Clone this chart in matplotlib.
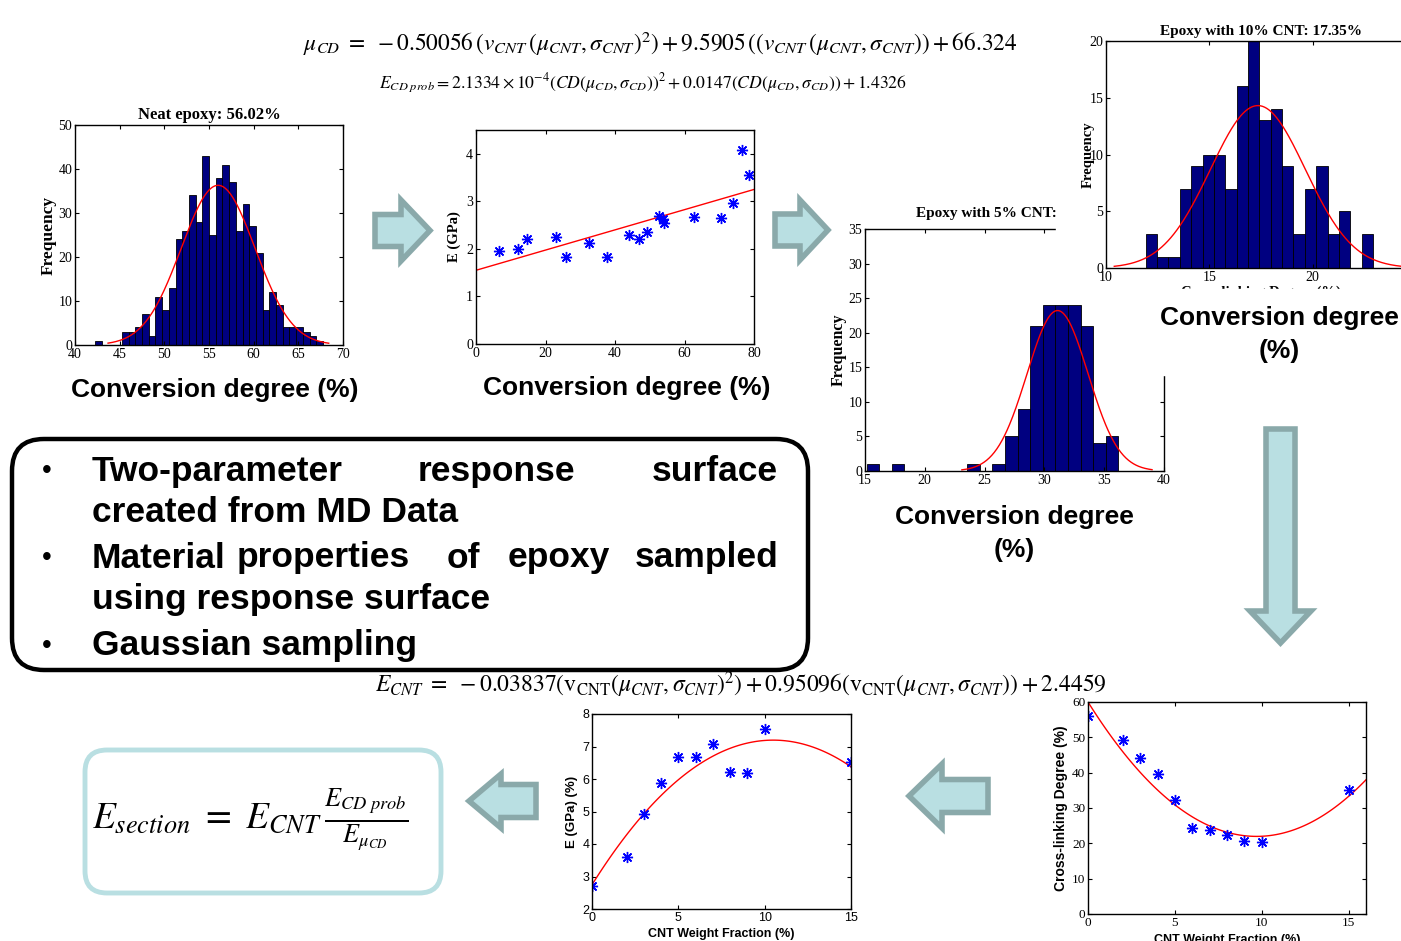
import matplotlib.pyplot as plt
import numpy as np
from matplotlib.patches import Polygon, Rectangle, FancyBboxPatch

plt.rcParams['mathtext.fontset'] = 'stix'

W, H = 1401, 941

# --- data ---
# neat epoxy histogram
neat_start, neat_width = 42.25, 0.75
neat_counts = [1, 0, 0, 0, 3, 3, 4, 7, 2, 11, 8, 13, 24, 26, 34, 28, 43, 25, 38, 41,
               37, 26, 32, 27, 21, 8, 12, 9, 4, 4, 4, 3, 2, 1]
neat_mu, neat_sigma = 56.02, 4.13

# 5% CNT histogram
cnt5_start, cnt5_width = 15.14, 1.052
cnt5_counts = [1, 0, 1, 0, 0, 0, 0, 0, 1, 0, 1, 5, 9, 21, 24, 24, 24, 21, 4, 5]
cnt5_mu, cnt5_sigma = 31.1, 2.55

# 10% CNT histogram
cnt10_start, cnt10_width = 11.92, 0.55
cnt10_counts = [3, 1, 1, 7, 9, 10, 10, 7, 16, 20, 13, 14, 9, 3, 7, 9, 3, 5, 0, 3]
cnt10_mu, cnt10_sigma = 17.35, 2.30

# E vs conversion degree
cd_x = [6.5, 12.1, 14.6, 22.9, 26.0, 32.6, 37.6, 44.0, 47.0, 49.2, 52.7, 53.8, 54.1,
        62.6, 70.4, 74.0, 76.6, 78.6]
cd_E = [1.96, 2.00, 2.21, 2.25, 1.82, 2.12, 1.82, 2.29, 2.21, 2.35, 2.70, 2.62, 2.55,
        2.68, 2.65, 2.96, 4.07, 3.56]
cd_fit = [0.02125, 1.55]

# E vs CNT weight fraction
wf = [0, 2, 3, 4, 5, 6, 7, 8, 9, 10, 15]
wf_E = [2.70, 3.59, 4.93, 5.87, 6.67, 6.69, 7.07, 6.21, 6.18, 7.55, 6.52]
wf_E_fit = [-0.0404, 0.848, 2.746]

# cross-linking degree vs CNT weight fraction
wf_CL = [55.9, 49.2, 44.1, 39.7, 32.4, 24.3, 23.9, 22.5, 20.6, 20.4, 35.2]
wf_CL_fit = [0.404, -7.84, 60.0]

navy = '#000080'
serif = 'Liberation Serif'
sans = 'Liberation Sans'
arrow_fill = '#b9dfe2'
arrow_edge = '#8aa9aa'

fig = plt.figure(figsize=(W / 100, H / 100), dpi=100)


def box(l, t, r, b):
    return [l / W, 1 - b / H, (r - l) / W, (b - t) / H]


def style(ax, fs=10, fam=serif):
    ax.tick_params(direction='in', top=True, right=True, length=3, labelsize=fs, pad=2)
    for lab in ax.get_xticklabels() + ax.get_yticklabels():
        lab.set_family(fam)
    for s in ax.spines.values():
        s.set_linewidth(1.0)


def hist(ax, start, width, counts, mu, sigma, xr):
    counts = np.array(counts)
    lefts = start + width * np.arange(len(counts))
    ax.bar(lefts, counts, width=width, align='edge', color=navy, edgecolor='black', lw=0.6)
    xx = np.linspace(xr[0], xr[1], 300)
    n = counts.sum()
    yy = n * width / (sigma * np.sqrt(2 * np.pi)) * np.exp(-0.5 * ((xx - mu) / sigma) ** 2)
    ax.plot(xx, yy, color='red', lw=1.0)


def stars(ax, x, y):
    ax.plot(x, y, ls='none', marker=(8, 2, 0), ms=8, mew=1.0, color='blue')


# neat epoxy
ax1 = fig.add_axes(box(75, 125, 343, 345))
hist(ax1, neat_start, neat_width, neat_counts, neat_mu, neat_sigma, (43.7, 68.4))
ax1.set_xlim(40, 70)
ax1.set_ylim(0, 50)
ax1.set_xticks(range(40, 71, 5))
ax1.set_yticks(range(0, 51, 10))
ax1.set_title('Neat epoxy: 56.02%', family=serif, weight='bold', fontsize=12, pad=4)
ax1.set_ylabel('Frequency', family=serif, weight='bold', fontsize=12.5, labelpad=1)
style(ax1)

# E vs conversion degree
ax2 = fig.add_axes(box(476, 130, 754, 344))
xx = np.linspace(0, 80, 100)
ax2.plot(xx, np.polyval(cd_fit, xx), color='red', lw=1.0)
stars(ax2, cd_x, cd_E)
ax2.set_xlim(0, 80)
ax2.set_ylim(0, 4.5)
ax2.set_xticks(range(0, 81, 20))
ax2.set_yticks(range(0, 5))
ax2.set_ylabel('E (GPa)', family=serif, weight='bold', fontsize=10.5, labelpad=4)
style(ax2)

# 5% CNT
ax3 = fig.add_axes(box(865, 229, 1164, 471))
ax3.set_zorder(1)
hist(ax3, cnt5_start, cnt5_width, cnt5_counts, cnt5_mu, cnt5_sigma, (23.1, 39.0))
ax3.set_xlim(15, 40)
ax3.set_ylim(0, 35)
ax3.set_xticks(range(15, 41, 5))
ax3.set_yticks(range(0, 36, 5))
ax3.set_ylabel('Frequency', family=serif, weight='bold', fontsize=11.5, labelpad=1)
style(ax3)
fig.text(916 / W, 1 - 213 / H, 'Epoxy with 5% CNT:', family=serif, weight='bold',
         fontsize=11, ha='left', va='center', zorder=1.5)

# white panel of the 10% chart covering part of the 5% chart
fig.add_artist(Rectangle((1056 / W, 1 - 290 / H), (W - 1056) / W, 290 / H,
                         transform=fig.transFigure, color='white', zorder=2))

# 10% CNT
ax4 = fig.add_axes(box(1106, 41, 1416, 268))
ax4.set_zorder(3)
hist(ax4, cnt10_start, cnt10_width, cnt10_counts, cnt10_mu, cnt10_sigma, (10.4, 25))
ax4.set_xlim(10, 25)
ax4.set_ylim(0, 20)
ax4.set_xticks(range(10, 26, 5))
ax4.set_yticks(range(0, 21, 5))
ax4.set_title('Epoxy with 10% CNT: 17.35%', family=serif, weight='bold', fontsize=11, pad=4)
ax4.set_ylabel('Frequency', family=serif, weight='bold', fontsize=10.5, labelpad=-4)
ax4.set_xlabel('Cross-linking Degree (%)', family=serif, weight='bold', fontsize=10.5, labelpad=1)
style(ax4)
# white strip under the cropped 10% panel (cuts its x label) and behind its caption
fig.add_artist(Rectangle((1056 / W, 1 - 291 / H), (W - 1056) / W, 2 / H,
                         transform=fig.transFigure, color='white', zorder=4))
fig.add_artist(Rectangle((1150 / W, 1 - 375 / H), (W - 1150) / W, (375 - 290) / H,
                         transform=fig.transFigure, color='white', zorder=4))

# E vs CNT weight fraction
ax5 = fig.add_axes(box(592, 714, 851, 909))
xx = np.linspace(0, 15, 100)
ax5.plot(xx, np.polyval(wf_E_fit, xx), color='red', lw=1.0)
stars(ax5, wf, wf_E)
ax5.set_xlim(0, 15)
ax5.set_ylim(2, 8)
ax5.set_xticks([0, 5, 10, 15])
ax5.set_yticks(range(2, 9))
ax5.set_ylabel('E (GPa) (%)', family=sans, weight='bold', fontsize=9.5, labelpad=3)
ax5.set_xlabel('CNT Weight Fraction (%)', family=sans, weight='bold', fontsize=9, labelpad=3)
style(ax5, fs=9, fam=sans)

# cross-linking degree
ax6 = fig.add_axes(box(1088, 702, 1366, 914))
xx = np.linspace(0, 16, 100)
ax6.plot(xx, np.polyval(wf_CL_fit, xx), color='red', lw=1.0)
stars(ax6, wf, wf_CL)
ax6.set_xlim(0, 16)
ax6.set_ylim(0, 60)
ax6.set_xticks([0, 5, 10, 15])
ax6.set_yticks(range(0, 61, 10))
ax6.set_ylabel('Cross-linking Degree (%)', family=sans, weight='bold', fontsize=10, labelpad=3)
ax6.set_xlabel('CNT Weight Fraction (%)', family=sans, weight='bold', fontsize=9, labelpad=4)
style(ax6, fs=9.5)

# overlay in pixel coordinates for arrows, boxes and text
ov = fig.add_axes([0, 0, 1, 1])
ov.set_zorder(5)
ov.set_xlim(0, W)
ov.set_ylim(H, 0)
ov.axis('off')
ov.patch.set_visible(False)


def right_arrow(x0, x1, y0, y1, head, shaft):
    ym = (y0 + y1) / 2
    pts = [(x0, ym - shaft / 2), (x1 - head, ym - shaft / 2), (x1 - head, y0), (x1, ym),
           (x1 - head, y1), (x1 - head, ym + shaft / 2), (x0, ym + shaft / 2)]
    return pts


def draw_arrow(pts):
    ov.add_patch(Polygon(pts, closed=True, fc=arrow_fill, ec=arrow_edge, lw=4,
                         joinstyle='miter'))


draw_arrow(right_arrow(375, 430, 200, 261, 29, 32))
draw_arrow(right_arrow(775, 828, 200, 260, 28, 32))
# left arrows (mirror)
for (x0, x1, y0, y1, hd, sh) in [(909, 988, 764, 828, 33, 33), (469, 536, 774, 828, 32, 33)]:
    pts = right_arrow(x0, x1, y0, y1, hd, sh)
    draw_arrow([(x0 + x1 - px, py) for px, py in pts])
# down arrow
pts = right_arrow(429, 643, 1250, 1311, 32, 29)
draw_arrow([(py, px) for px, py in pts])

# bullet box
ov.add_patch(FancyBboxPatch((12, 439), 796, 231, boxstyle='round,pad=0,rounding_size=32',
                            fc='white', ec='black', lw=3.2))
bfont = dict(family=sans, weight='bold', fontsize=25.5, va='center')
lines = [
    (471, [('Two-parameter', 92, 'left'), ('response', 418, 'left'), ('surface', 778, 'right')]),
    (512, [('created from MD Data', 92, 'left')]),
    (558, [('Material', 92, 'left'), ('properties', 237, 'left'), ('of', 447, 'left'),
           ('epoxy', 508, 'left'), ('sampled', 778, 'right')]),
    (600, [('using response surface', 92, 'left')]),
    (646, [('Gaussian sampling', 92, 'left')]),
]
for y, words in lines:
    for txt, x, ha in words:
        ov.text(x, y, txt, ha=ha, **bfont)
for y in [471, 558, 646]:
    ov.text(47, y, '•', ha='center', family=sans, fontsize=20, va='center')

# equation box
ov.add_patch(FancyBboxPatch((85, 750), 356, 143, boxstyle='round,pad=0,rounding_size=22',
                            fc='white', ec=arrow_fill, lw=3.5))
ov.text(250, 820, r'$E_{section}\ =\ E_{CNT}\,\frac{E_{CD\ prob}}{E_{\mu_{CD}}}$',
        ha='center', va='center', fontsize=27)

# equations
ov.text(660, 44, r'$\mu_{CD}\ =\ -0.50056\,(v_{CNT}\,(\mu_{CNT},\sigma_{CNT})^2) + 9.5905\,((v_{CNT}\,(\mu_{CNT},\sigma_{CNT})) + 66.324$',
        ha='center', va='center', fontsize=16.8)
ov.text(643, 83, r'$E_{CD\ prob} = 2.1334\times 10^{-4}(CD(\mu_{CD},\sigma_{CD}))^2 + 0.0147(CD(\mu_{CD},\sigma_{CD})) + 1.4326$',
        ha='center', va='center', fontsize=12.7)
ov.text(741, 685, r'$E_{CNT}\ =\ -0.03837(\mathrm{v}_{\mathrm{CNT}}(\mu_{CNT},\sigma_{CNT})^2) + 0.95096(\mathrm{v}_{\mathrm{CNT}}(\mu_{CNT},\sigma_{CNT})) + 2.4459$',
        ha='center', va='center', fontsize=17)

# axis captions
cap = dict(family=sans, weight='bold', fontsize=19, ha='center', va='center')
ov.text(215, 390, 'Conversion degree (%)', **cap)
ov.text(627, 388, 'Conversion degree (%)', **cap)
ov.text(1014, 517, 'Conversion degree', **cap)
ov.text(1014, 550, '(%)', **cap)
ov.text(1279, 318, 'Conversion degree', **cap)
ov.text(1279, 351, '(%)', **cap)

fig.savefig('out.png', dpi=100)
